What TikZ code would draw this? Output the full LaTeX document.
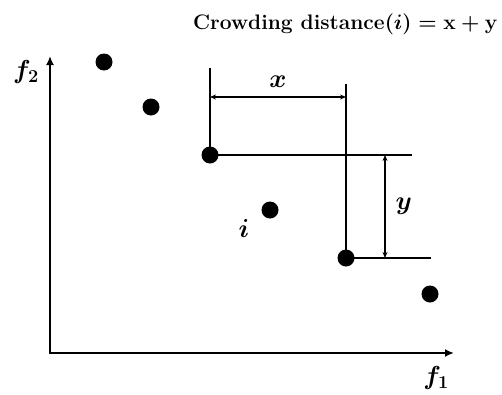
\RequirePackage{fix-cm}
\documentclass[tikz,border=0pt]{standalone}
\usepackage{amsmath}
\usepackage{bm}
\usetikzlibrary{arrows.meta,positioning}

\begin{document}
\begin{tikzpicture}[
  x=1pt, y=-1pt,
  font=\fontsize{21}{25}\selectfont\bfseries\boldmath,
  dot/.style  ={circle, fill=black, inner sep=0pt, minimum size=17pt},
  axis/.style ={line width=2pt, {Latex[length=9pt,width=8pt]}-{Latex[length=9pt,width=8pt]}},
  bound/.style={line width=1.8pt},
  dim/.style  ={line width=1.2pt, {Stealth[length=6pt,width=5pt]}-{Stealth[length=6pt,width=5pt]}},
  lbl/.style  ={inner sep=1pt, font=\fontsize{26}{30}\selectfont\boldmath},
]
\useasboundingbox (0,0) rectangle (502,394);

% axes
\coordinate (o)    at (50,353);
\coordinate (ytip) at (50,56);
\coordinate (xtip) at (454,353);
\draw[axis] (ytip) -- (o) -- (xtip);
\node[lbl] (f2) at (26,72)  {$\bm{f_2}$};
\node[lbl] (f1) at (436,378) {$\bm{f_1}$};

% solutions
\node[dot] (p1) at (104,62)  {};
\node[dot] (p2) at (151,107) {};
\node[dot] (p3) at (210,155) {};
\node[dot] (pi) at (270,210) {};
\node[dot] (p5) at (346,258) {};
\node[dot] (p6) at (430,294) {};
\node[lbl] (li) at (244,228) {$\bm{i}$};

% cuboid edges
\coordinate (p3up) at (210,68);
\coordinate (p3rt) at (412,155);
\coordinate (p5up) at (346,84);
\coordinate (p5rt) at (431,258);
\draw[bound] (p3.center) -- (p3up);   \draw[bound] (p3.center) -- (p3rt);
\draw[bound] (p5.center) -- (p5up);   \draw[bound] (p5.center) -- (p5rt);

% distances
\coordinate (xa) at (210,97);  \coordinate (xb) at (346,97);
\coordinate (ya) at (385,155); \coordinate (yb) at (385,258);
\draw[dim] (xa) -- node[lbl,above=8pt] {$\bm{x}$} (xb);
\draw[dim] (ya) -- node[lbl,right=9pt] {$\bm{y}$} (yb);

\node[inner sep=1pt, anchor=east] (title) at (499,24)
  {Crowding distance$(\bm{i})=\mathbf{x}+\mathbf{y}$};

\end{tikzpicture}
\end{document}
